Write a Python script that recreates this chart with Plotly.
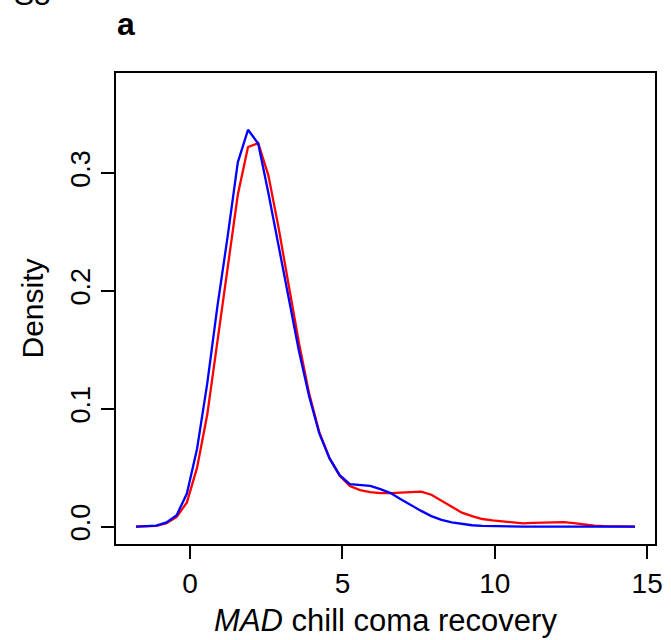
import numpy as np
import plotly.graph_objects as go

# density evaluation grid (50 points from -1.775 to 14.601)
x_start = -1.775
x_end = 14.601
n_points = 50
x_grid = np.linspace(x_start, x_end, n_points)

density_red = [0.0000, 0.0001, 0.0006, 0.0028, 0.0082, 0.0205, 0.0500, 0.0950, 0.1575, 0.2160,
               0.2815, 0.3220, 0.3253, 0.2980, 0.2536, 0.2045, 0.1560, 0.1130, 0.0800, 0.0580,
               0.0430, 0.0343, 0.0309, 0.0292, 0.0284, 0.0284, 0.0288, 0.0295, 0.0297, 0.0270,
               0.0220, 0.0172, 0.0118, 0.0088, 0.0064, 0.0053, 0.0043, 0.0033, 0.0027, 0.0031,
               0.0035, 0.0040, 0.0038, 0.0030, 0.0018, 0.0007, 0.0003, 0.0001, 0.0000, 0.0000]

density_blue = [0.0000, 0.0001, 0.0008, 0.0035, 0.0097, 0.0280, 0.0660, 0.1215, 0.1870, 0.2460,
                0.3090, 0.3366, 0.3250, 0.2830, 0.2385, 0.1910, 0.1490, 0.1105, 0.0790, 0.0580,
                0.0436, 0.0360, 0.0351, 0.0345, 0.0318, 0.0284, 0.0232, 0.0180, 0.0133, 0.0089,
                0.0057, 0.0035, 0.0021, 0.0011, 0.0006, 0.0003, 0.0001, 0.0000, 0.0000, 0.0000,
                0.0000, 0.0000, 0.0000, 0.0000, 0.0000, 0.0000, 0.0000, 0.0000, 0.0000, 0.0000]

x_ticks = [0, 5, 10, 15]
y_ticks = [0.0, 0.1, 0.2, 0.3]
y_tick_labels = ["0.0", "0.1", "0.2", "0.3"]

FONT = "Liberation Sans, Arial, sans-serif"

fig = go.Figure()
fig.add_trace(go.Scatter(x=x_grid, y=density_red, mode="lines",
                         line=dict(color="#FF0000", width=2.3), showlegend=False))
fig.add_trace(go.Scatter(x=x_grid, y=density_blue, mode="lines",
                         line=dict(color="#0000FF", width=2.3), showlegend=False))

xr = (x_end - x_start)
fig.update_layout(
    width=671, height=640,
    margin=dict(l=116, r=8, t=73, b=95),
    paper_bgcolor="white", plot_bgcolor="white",
    font=dict(family=FONT, color="black", size=27),
    xaxis=dict(range=[x_start - 0.04 * xr, x_end + 0.04 * xr],
               tickvals=x_ticks, ticktext=[str(v) for v in x_ticks],
               ticks="outside", ticklen=13, tickwidth=1.5, tickcolor="black",
               showline=True, linewidth=1.8, linecolor="black", mirror=True,
               showgrid=False, zeroline=False,
               tickfont=dict(size=28),
               title=dict(text="<i>MAD</i> chill coma recovery", font=dict(size=31), standoff=12)),
    yaxis=dict(range=[-0.0148, 0.3848],
               tickvals=y_ticks, ticktext=y_tick_labels, tickangle=-90,
               ticks="outside", ticklen=13, tickwidth=1.5, tickcolor="black",
               showline=True, linewidth=1.8, linecolor="black", mirror=True,
               showgrid=False, zeroline=False,
               tickfont=dict(size=27),
               title=dict(text="Density", font=dict(size=30), standoff=14)),
    annotations=[
        dict(text="<b>a</b>", xref="paper", yref="paper", x=(126 - 116) / 547, y=1 + (73 - 24) / 472,
             xanchor="center", yanchor="middle", showarrow=False, font=dict(size=32)),
        dict(text="S5", xref="paper", yref="paper", x=(31 - 116) / 547, y=1 + (73 - 13) / 472,
             xanchor="center", yanchor="bottom", showarrow=False, font=dict(size=30)),
    ],
)

fig.write_html("out.html")
